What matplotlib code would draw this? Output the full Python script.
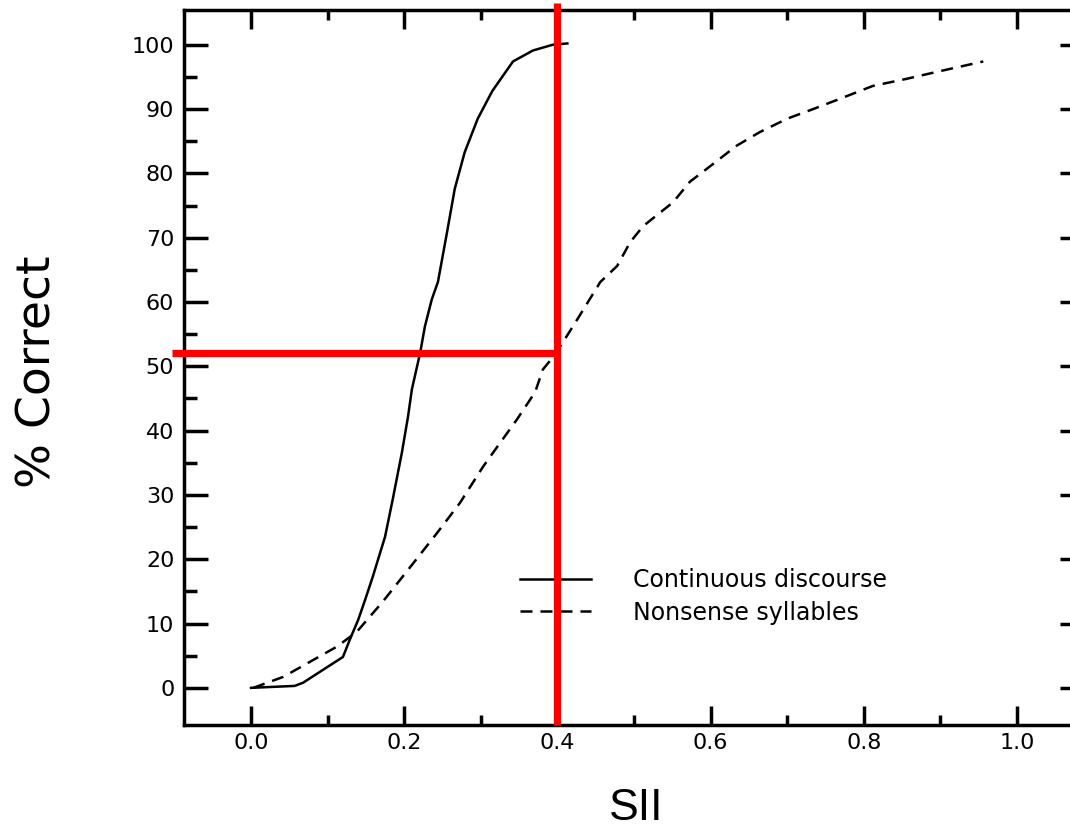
import matplotlib
matplotlib.use("Agg")
import matplotlib.pyplot as plt
from matplotlib.ticker import FixedLocator

# Continuous discourse (solid)
cd_sii = [0.0, 0.057, 0.068, 0.120, 0.129, 0.140, 0.149, 0.159, 0.175, 0.185,
          0.197, 0.205, 0.210, 0.221, 0.227, 0.236, 0.244, 0.256, 0.266, 0.279,
          0.296, 0.315, 0.342, 0.368, 0.394, 0.413]
cd_pct = [0.0, 0.3, 0.8, 4.8, 7.5, 10.6, 13.7, 17.3, 23.5, 29.3,
          36.6, 42.2, 46.4, 52.2, 56.2, 60.4, 63.1, 70.9, 77.6, 83.3,
          88.5, 92.8, 97.4, 99.1, 100.0, 100.2]

# Nonsense syllables (dashed)
ns_sii = [0.003, 0.042, 0.112, 0.138, 0.172, 0.208, 0.243, 0.273, 0.303, 0.321,
          0.347, 0.371, 0.381, 0.394, 0.407, 0.426, 0.456, 0.478, 0.495, 0.512,
          0.551, 0.573, 0.595, 0.634, 0.664, 0.700, 0.734, 0.769, 0.812, 0.856,
          0.896, 0.956]
ns_pct = [0.0, 1.7, 6.4, 8.7, 13.4, 18.8, 24.1, 28.8, 34.4, 37.4,
          41.7, 46.0, 49.5, 51.4, 53.7, 57.3, 63.1, 65.6, 69.3, 71.8,
          75.5, 78.7, 80.7, 84.3, 86.4, 88.5, 90.0, 91.6, 93.6, 94.7,
          95.8, 97.4]

series_labels = ["Continuous discourse", "Nonsense syllables"]
x_ticks = [0.0, 0.2, 0.4, 0.6, 0.8, 1.0]
x_ticklabels = ["0.0", "0.2", "0.4", "0.6", "0.8", "1.0"]
x_minor = [0.1, 0.3, 0.5, 0.7, 0.9]
y_ticks = [0, 10, 20, 30, 40, 50, 60, 70, 80, 90, 100]
y_minor = [5, 15, 25, 35, 45, 55, 65, 75, 85, 95]

ref_sii = 0.4
ref_pct = 52

plt.rcParams['font.family'] = ['DejaVu Sans']

fig = plt.figure(figsize=(10.70, 8.31), dpi=100)
ax = fig.add_axes([184/1070, 1 - 724.5/831, (1084 - 184)/1070, (724.5 - 10)/831])

ax.plot(cd_sii, cd_pct, color='black', lw=1.8, label=series_labels[0], zorder=3)
ax.plot(ns_sii, ns_pct, color='black', lw=1.8, ls=(0, (4.8, 3.2)),
        label=series_labels[1], zorder=3)

ax.set_xlim(-0.0875, 1.0875)
ax.set_ylim(-5.7, 105.4)

# reference lines
ax.plot([ref_sii, ref_sii], [-5.7, 106.5], color='red', lw=5.2,
        clip_on=False, zorder=6, solid_capstyle='butt')
ax.plot([-0.103, ref_sii], [ref_pct, ref_pct], color='red', lw=5.2,
        clip_on=False, zorder=6, solid_capstyle='butt')

ax.set_xticks(x_ticks)
ax.set_xticklabels(x_ticklabels)
ax.set_yticks(y_ticks)
ax.xaxis.set_minor_locator(FixedLocator(x_minor))
ax.yaxis.set_minor_locator(FixedLocator(y_minor))

for s in ax.spines.values():
    s.set_linewidth(2.5)

ax.tick_params(axis='x', which='major', direction='in', length=13.7, width=2.5,
               top=True, bottom=True, labelsize=16, pad=6)
ax.tick_params(axis='x', which='minor', direction='in', length=7.2, width=2.5,
               top=True, bottom=True)
ax.tick_params(axis='y', which='major', direction='in', length=17.3, width=2.5,
               left=True, right=True, labelsize=16, pad=7)
ax.tick_params(axis='y', which='minor', direction='in', length=9.6, width=2.5,
               left=True, right=True)

ax.set_xlabel("SII", fontsize=32, family='Liberation Sans', va='center')
ax.xaxis.set_label_coords((636 - 184) / 900, (724.5 - 809) / 714.5)
ax.set_ylabel("% Correct", fontsize=34, va='center')
ax.yaxis.set_label_coords((38 - 184) / 900, (724.5 - 372) / 714.5)

leg = ax.legend(loc='center left', bbox_to_anchor=(520/1070, 1 - 596.5/831),
                bbox_transform=fig.transFigure, frameon=False, fontsize=17,
                handlelength=3.0, handletextpad=1.8, labelspacing=0.35,
                borderpad=0, borderaxespad=0)
leg.set_zorder(5)

fig.savefig("out.png", dpi=100)
